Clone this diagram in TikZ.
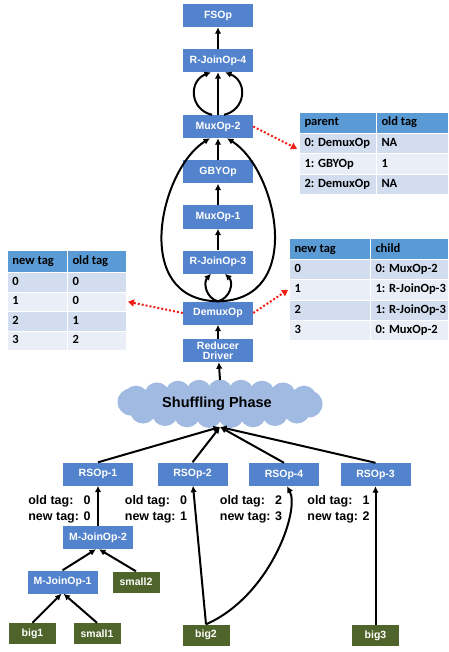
\documentclass[tikz,border=0pt]{standalone}
\usepackage{fontspec}
\setmainfont{Liberation Sans}
\newfontfamily\calib{Carlito}
\usetikzlibrary{arrows.meta}

\definecolor{opblue}{RGB}{83,131,204}
\definecolor{datagreen}{RGB}{78,100,42}
\definecolor{cloudblue}{RGB}{160,186,226}
\definecolor{thead}{RGB}{91,155,213}
\definecolor{trowa}{RGB}{210,222,239}
\definecolor{trowb}{RGB}{233,238,247}
\definecolor{mapred}{RGB}{240,30,20}

\tikzset{
  opbox/.style={fill=opblue, minimum width=70pt, minimum height=23pt, inner sep=0pt,
    text=white, align=center, font=\bfseries\fontsize{10.5}{10}\selectfont},
  databox/.style={fill=datagreen, minimum width=47pt, minimum height=21pt, inner sep=0pt,
    text=white, font=\bfseries\fontsize{10.5}{10}\selectfont},
  arr/.style={draw=black, line width=2pt, -{Latex[length=6.5pt,width=6.5pt]}},
  mapline/.style={draw=mapred, line width=2pt, dash pattern=on 2pt off 2pt,
    -{Triangle[length=6pt,width=7pt]}},
  tcellst/.style={draw=white, line width=1pt, anchor=north west, inner sep=0pt,
    text height=9pt, text depth=3pt, font=\calib\bfseries\fontsize{12.5}{14}\selectfont},
  taglabel/.style={inner sep=0pt, font=\bfseries\fontsize{12.5}{16}\selectfont}
}

% table cell: name, x, y, width, height, fill, text
\newcommand{\tcell}[7]{%
  \node[tcellst, fill=#6, minimum width=#4pt, minimum height=#5pt] (#1) at (#2,#3)
    {\makebox[#4pt][l]{\hspace{5pt}#7}};}

\begin{document}
\begin{tikzpicture}[x=1pt,y=-1pt]
\useasboundingbox (0,0) rectangle (448,652);

% shuffle cloud: an ellipse body with puffs along its rim
\fill[cloudblue] (220,404) ellipse [x radius=92, y radius=14];
\foreach \k in {-4,...,4}{
  \fill[cloudblue] ({220+21*\k},{404-12*sqrt(1-(21*\k/96)^2)}) circle (12.5);
}
\foreach \k in {-3.5,-2.5,...,3.5}{
  \fill[cloudblue] ({220+22*\k},{404+11*sqrt(1-(22*\k/96)^2)}) circle (13);
}
\fill[cloudblue] (131,402) circle (13.5);
\fill[cloudblue] (309,404) circle (13.5);
\node[minimum width=200pt, minimum height=48pt, inner sep=0pt,
      font=\bfseries\fontsize{14.5}{16}\selectfont] (shuf) at (217,404) {Shuffling Phase};

% reduce-side operator chain
\node[opbox] (fsop)  at (218,15.5)  {FSOp};
\node[opbox] (rj4)   at (218,60.5)  {R-JoinOp-4};
\node[opbox] (mux2)  at (218,126.5) {MuxOp-2};
\node[opbox] (gby)   at (218,172)   {GBYOp};
\node[opbox] (mux1)  at (218,217)   {MuxOp-1};
\node[opbox] (rj3)   at (218,262)   {R-JoinOp-3};
\node[opbox] (demux) at (218,313)   {DemuxOp};
\node[opbox] (rd)    at (218,350.5) {Reducer\\Driver};
\coordinate (cloudtop) at (220,380);
\coordinate (cloudbot) at (220,427);

% map-side operators
\node[opbox] (rs1) at (98,474)    {RSOp-1};
\node[opbox] (rs2) at (192.5,474) {RSOp-2};
\node[opbox] (rs4) at (284,474.5) {RSOp-4};
\node[opbox] (rs3) at (375.5,474.5) {RSOp-3};
\node[opbox] (mj2) at (98,537.5)  {M-JoinOp-2};
\node[opbox] (mj1) at (62.5,582)  {M-JoinOp-1};

% input tables
\node[databox] (small2) at (136,582)   {small2};
\node[databox] (big1)   at (32.5,633.5) {big1};
\node[databox] (small1) at (97,633.5)  {small1};
\node[databox] (big2)   at (206,635)   {big2};
\node[databox] (big3)   at (375.5,635.5) {big3};

% tag labels
\node[taglabel] (lab1) at (59.5,509) {\begin{tabular}{@{}l@{ }l@{}}old tag: & 0\\new tag: & 0\end{tabular}};
\node[taglabel] (lab2) at (156,509)  {\begin{tabular}{@{}l@{ }l@{}}old tag: & 0\\new tag: & 1\end{tabular}};
\node[taglabel] (lab3) at (251,509)  {\begin{tabular}{@{}l@{ }l@{}}old tag: & 2\\new tag: & 3\end{tabular}};
\node[taglabel] (lab4) at (338.5,509){\begin{tabular}{@{}l@{ }l@{}}old tag: & 1\\new tag: & 2\end{tabular}};

% MuxOp-2 parent table
\tcell{pa-h1}{299}{112}{77}{21}{thead}{parent}
\tcell{pa-h2}{376}{112}{72}{21}{thead}{old tag}
\tcell{pa-a1}{299}{133}{77}{20.5}{trowa}{0: DemuxOp}
\tcell{pa-a2}{376}{133}{72}{20.5}{trowa}{NA}
\tcell{pa-b1}{299}{153.5}{77}{20.5}{trowb}{1: GBYOp}
\tcell{pa-b2}{376}{153.5}{72}{20.5}{trowb}{1}
\tcell{pa-c1}{299}{174}{77}{20.5}{trowa}{2: DemuxOp}
\tcell{pa-c2}{376}{174}{72}{20.5}{trowa}{NA}

% DemuxOp tag table
\tcell{tg-h1}{7}{250}{60}{22}{thead}{new tag}
\tcell{tg-h2}{67}{250}{59}{22}{thead}{old tag}
\tcell{tg-a1}{7}{272}{60}{19.5}{trowa}{0}
\tcell{tg-a2}{67}{272}{59}{19.5}{trowa}{0}
\tcell{tg-b1}{7}{291.5}{60}{19.5}{trowb}{1}
\tcell{tg-b2}{67}{291.5}{59}{19.5}{trowb}{0}
\tcell{tg-c1}{7}{311}{60}{19.5}{trowa}{2}
\tcell{tg-c2}{67}{311}{59}{19.5}{trowa}{1}
\tcell{tg-d1}{7}{330.5}{60}{19.5}{trowb}{3}
\tcell{tg-d2}{67}{330.5}{59}{19.5}{trowb}{2}

% DemuxOp child table
\tcell{ch-h1}{289}{238}{81}{21}{thead}{new tag}
\tcell{ch-h2}{370}{238}{78}{21}{thead}{child}
\tcell{ch-a1}{289}{259}{81}{20.25}{trowa}{0}
\tcell{ch-a2}{370}{259}{78}{20.25}{trowa}{0: MuxOp-2}
\tcell{ch-b1}{289}{279.25}{81}{20.25}{trowb}{1}
\tcell{ch-b2}{370}{279.25}{78}{20.25}{trowb}{1: R-JoinOp-3}
\tcell{ch-c1}{289}{299.5}{81}{20.25}{trowa}{2}
\tcell{ch-c2}{370}{299.5}{78}{20.25}{trowa}{1: R-JoinOp-3}
\tcell{ch-d1}{289}{319.75}{81}{20.25}{trowb}{3}
\tcell{ch-d2}{370}{319.75}{78}{20.25}{trowb}{0: MuxOp-2}

% reduce-side connectors
\draw[arr] (rj4) -- (fsop);
\draw[arr] (mux2) -- (rj4);
\draw[arr] ([xshift=-6pt]mux2.north) .. controls +(-22,-5) and +(-23,9) .. ([xshift=-7pt]rj4.south);
\draw[arr] ([xshift=6pt]mux2.north) .. controls +(22,-5) and +(23,9) .. ([xshift=7pt]rj4.south);
\draw[arr] (gby) -- (mux2);
\draw[arr] (mux1) -- (gby);
\draw[arr] (rj3) -- (mux1);
\draw[arr] (demux.north) .. controls +(-88,-1) and +(-50,31) .. ([xshift=-8pt]mux2.south);
\draw[arr] (demux.north) .. controls +(88,-1) and +(50,31) .. ([xshift=9pt]mux2.south);
\draw[arr] (demux.north) .. controls +(-12,-3) and +(-8,9) .. ([xshift=-7pt]rj3.south);
\draw[arr] (demux.north) .. controls +(12,-3) and +(9,9) .. ([xshift=7pt]rj3.south);
\draw[arr] (rd) -- (demux);
\draw[arr] (cloudtop) -- (rd);

% map-side connectors
\draw[arr] (rs1.north) -- (cloudbot);
\draw[arr] (rs2.north) -- (cloudbot);
\draw[arr] (rs4.north) -- (cloudbot);
\draw[arr] (rs3.north) -- (cloudbot);
\draw[arr] (mj2) -- (rs1);
\draw[arr] (mj1.north) -- ([xshift=-2pt]mj2.south);
\draw[arr] (small2.north) -- ([xshift=1pt]mj2.south);
\draw[arr] (big1.north) -- ([xshift=-1pt]mj1.south);
\draw[arr] (small1.north) -- ([xshift=1pt]mj1.south);
\draw[arr] (big2.north) -- ([xshift=0.5pt]rs2.south);
\draw[arr] (big2.north) .. controls +(64,-28) and +(13,24) .. ([xshift=3pt]rs4.south);
\draw[arr] (big3) -- (rs3);

% tag mappings
\draw[mapline] (mux2.east) -- ([xshift=-2pt,yshift=-5pt]pa-a1.west);
\draw[mapline] (demux.west) -- ([xshift=1pt]tg-b2.east);
\draw[mapline] (demux.east) -- ([xshift=-1pt]ch-b1.west);
\end{tikzpicture}
\end{document}
